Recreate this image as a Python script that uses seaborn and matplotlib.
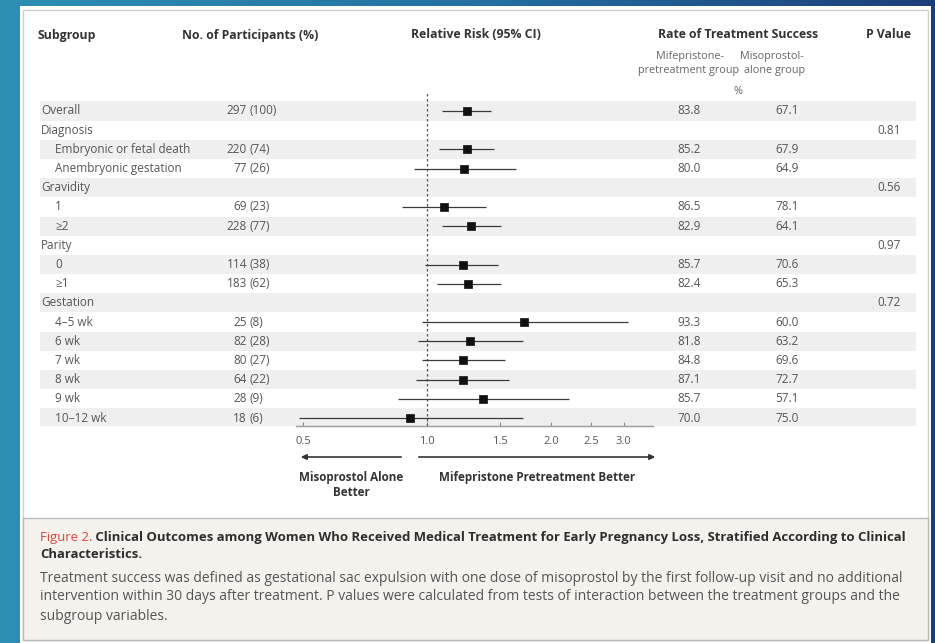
import numpy as np
import pandas as pd
import matplotlib
matplotlib.use("Agg")
import matplotlib.pyplot as plt
import seaborn as sns
from matplotlib.patches import Rectangle
from matplotlib.colors import LinearSegmentedColormap
from matplotlib.transforms import blended_transform_factory
from matplotlib.ticker import NullLocator

# ---- data ----
subgroups = ["Overall", "Diagnosis", "Embryonic or fetal death", "Anembryonic gestation",
             "Gravidity", "1", "\u22652", "Parity", "0", "\u22651", "Gestation",
             "4\u20135 wk", "6 wk", "7 wk", "8 wk", "9 wk", "10\u201312 wk"]
indent = [0, 0, 1, 1, 0, 1, 1, 0, 1, 1, 0, 1, 1, 1, 1, 1, 1]
n_part = ["297", "", "220", "77", "", "69", "228", "", "114", "183", "",
          "25", "82", "80", "64", "28", "18"]
pct_part = ["(100)", "", "(74)", "(26)", "", "(23)", "(77)", "", "(38)", "(62)", "",
            "(8)", "(28)", "(27)", "(22)", "(9)", "(6)"]
rr = [1.25, np.nan, 1.25, 1.23, np.nan, 1.10, 1.28, np.nan, 1.22, 1.26, np.nan,
      1.72, 1.27, 1.22, 1.22, 1.37, 0.91]
rr_lo = [1.09, np.nan, 1.07, 0.93, np.nan, 0.87, 1.09, np.nan, 0.99, 1.06, np.nan,
         0.97, 0.95, 0.97, 0.94, 0.85, 0.49]
rr_hi = [1.43, np.nan, 1.45, 1.64, np.nan, 1.39, 1.51, np.nan, 1.49, 1.51, np.nan,
         3.08, 1.71, 1.55, 1.58, 2.21, 1.71]
rate_mife = ["83.8", "", "85.2", "80.0", "", "86.5", "82.9", "", "85.7", "82.4", "",
             "93.3", "81.8", "84.8", "87.1", "85.7", "70.0"]
rate_miso = ["67.1", "", "67.9", "64.9", "", "78.1", "64.1", "", "70.6", "65.3", "",
             "60.0", "63.2", "69.6", "72.7", "57.1", "75.0"]
p_values = ["", "0.81", "", "", "0.56", "", "", "0.97", "", "", "0.72",
            "", "", "", "", "", ""]
x_ticks = [0.5, 1.0, 1.5, 2.0, 2.5, 3.0]
x_tick_labels = ["0.5", "1.0", "1.5", "2.0", "2.5", "3.0"]

df = pd.DataFrame({"row": np.arange(len(subgroups)), "rr": rr, "lo": rr_lo, "hi": rr_hi})
df_pts = df.dropna()

sns.set_theme(style="white")
plt.rcParams["font.family"] = ["Open Sans", "DejaVu Sans"]

W, H = 935, 643
fig = plt.figure(figsize=(W / 100, H / 100), dpi=100)

def fx(p):
    return p / W

def fy(p):
    return 1 - p / H

# slide background gradient
bg = fig.add_axes([0, 0, 1, 1], zorder=-2)
cmap = LinearSegmentedColormap.from_list("slide", ["#2c8fb3", "#2471a3", "#1c3f7c"])
bg.imshow(np.linspace(0, 1, 256)[None, :], extent=[0, 1, 0, 1], aspect="auto", cmap=cmap)
bg.set_xlim(0, 1)
bg.set_ylim(0, 1)
bg.axis("off")

# white panel and caption box
fig.add_artist(Rectangle((fx(20), 0), fx(931) - fx(20), fy(6), transform=fig.transFigure,
                         fc="white", ec="none", zorder=-1))
fig.add_artist(Rectangle((fx(23), fy(640)), fx(928) - fx(23), fy(10) - fy(640),
                         transform=fig.transFigure, fc="none", ec="#cfcfcf", lw=1, zorder=-1))
fig.add_artist(Rectangle((fx(23), fy(640)), fx(928) - fx(23), fy(518) - fy(640),
                         transform=fig.transFigure, fc="#f5f1ed", ec="#b9b9b9", lw=1, zorder=-1))

# overlay for arrows / chained caption text
top = fig.add_axes([0, 0, 1, 1], zorder=5)
top.set_xlim(0, 1)
top.set_ylim(0, 1)
top.axis("off")

# row geometry
row_top, row_step = 111, 19.19
y_lo_px, y_hi_px = 92.8, 426
ylim = ((y_hi_px - row_top) / row_step, (y_lo_px - row_top) / row_step)

# table axes (stripes + text)
ax_tab = fig.add_axes([fx(40), fy(y_hi_px), fx(916) - fx(40), (y_hi_px - y_lo_px) / H], zorder=1)
ax_tab.set_xlim(0, 1)
ax_tab.set_ylim(*ylim)
ax_tab.patch.set_alpha(0)
ax_tab.axis("off")
for i in range(0, len(subgroups), 2):
    ax_tab.axhspan(i - 0.5, i + 0.5, color="#efefef", lw=0)

tr = blended_transform_factory(fig.transFigure, ax_tab.transData)
txt = dict(fontsize=8.5, color="#555555", va="center", transform=tr)
for i, name in enumerate(subgroups):
    ax_tab.text(fx(55 if indent[i] else 41), i, name, ha="left", **txt)
    if n_part[i]:
        ax_tab.text(fx(247), i, n_part[i], ha="right", **txt)
        ax_tab.text(fx(250), i, pct_part[i], ha="left", **txt)
    if rate_mife[i]:
        ax_tab.text(fx(677), i, rate_mife[i], ha="left", **txt)
        ax_tab.text(fx(775), i, rate_miso[i], ha="left", **txt)
    if p_values[i]:
        ax_tab.text(fx(877), i, p_values[i], ha="left", **txt)

# forest plot axes
x0 = np.exp((296 - 427) / 179)
x1 = np.exp((653 - 427) / 179)
ax = fig.add_axes([fx(296), fy(y_hi_px), fx(653) - fx(296), (y_hi_px - y_lo_px) / H], zorder=2)
ax.patch.set_alpha(0)
ax.set_xscale("log")
ax.hlines(df_pts["row"], df_pts["lo"], df_pts["hi"], color="#3a3a3a", lw=0.9, zorder=2)
sns.scatterplot(data=df_pts, x="rr", y="row", marker="s", color="#111111", s=40,
                edgecolor="#111111", linewidth=0.5, legend=False, ax=ax, zorder=3)
ax.axvline(1.0, color="#555555", lw=0.9, ls=(0, (2, 2)), zorder=1)
ax.set_xlim(x0, x1)
ax.set_ylim(*ylim)
ax.set_xticks(x_ticks)
ax.set_xticklabels(x_tick_labels)
ax.xaxis.set_minor_locator(NullLocator())
ax.set_yticks([])
ax.set_xlabel("")
ax.set_ylabel("")
for s in ["top", "right", "left"]:
    ax.spines[s].set_visible(False)
ax.spines["bottom"].set_color("#9a9a9a")
ax.spines["bottom"].set_linewidth(1)
ax.tick_params(axis="x", direction="in", length=3, width=0.8, color="#8a8a8a",
               labelsize=8, labelcolor="#555555", pad=7, bottom=True)

# direction arrows and labels
arrow = dict(arrowstyle="-|>", color="#333333", lw=1.2, mutation_scale=8)
top.annotate("", xy=(fx(298), fy(457)), xytext=(fx(404), fy(457)),
             xycoords="figure fraction", textcoords="figure fraction", arrowprops=arrow)
top.annotate("", xy=(fx(658), fy(457)), xytext=(fx(416), fy(457)),
             xycoords="figure fraction", textcoords="figure fraction", arrowprops=arrow)
lab = dict(fontsize=8.4, fontweight="bold", color="#333333", ha="center", va="center")
fig.text(fx(351), fy(477), "Misoprostol Alone", **lab)
fig.text(fx(351), fy(492), "Better", **lab)
fig.text(fx(537), fy(477), "Mifepristone Pretreatment Better", **lab)

# column headers
hdr = dict(fontsize=8.8, fontweight="bold", color="#333333", va="center")
fig.text(fx(38), fy(35), "Subgroup", ha="left", **hdr)
fig.text(fx(182), fy(35), "No. of Participants (%)", ha="left", **hdr)
fig.text(fx(411), fy(35), "Relative Risk (95% CI)", ha="left", **hdr)
fig.text(fx(738), fy(35), "Rate of Treatment Success", ha="center", **hdr)
fig.text(fx(888), fy(35), "P Value", ha="center", **hdr)
sub = dict(fontsize=7.8, color="#666666", va="center", ha="center")
fig.text(fx(690), fy(56), "Mifepristone-", **sub)
fig.text(fx(689), fy(71), "pretreatment group", **sub)
fig.text(fx(772), fy(56), "Misoprostol-", **sub)
fig.text(fx(775), fy(71), "alone group", **sub)
fig.text(fx(738), fy(92), "%", **sub)

# caption
cap = 9.45
t1 = fig.text(fx(40), fy(537), "Figure 2.", fontsize=cap, color="#d9453f", va="center", zorder=6)
top.annotate(" Clinical Outcomes among Women Who Received Medical Treatment for Early "
             "Pregnancy Loss, Stratified According to Clinical",
             xy=(1, 0.5), xycoords=t1, va="center", ha="left",
             fontsize=cap, fontweight="bold", color="#2e2e2e", annotation_clip=False)
fig.text(fx(40), fy(555), "Characteristics.", fontsize=cap, fontweight="bold",
         color="#2e2e2e", va="center")
body = dict(fontsize=10.0, color="#555555", va="center", ha="left")
fig.text(fx(40), fy(578), "Treatment success was defined as gestational sac expulsion with one dose "
         "of misoprostol by the first follow-up visit and no additional", **body)
fig.text(fx(40), fy(597), "intervention within 30 days after treatment. P values were calculated "
         "from tests of interaction between the treatment groups and the", **body)
fig.text(fx(40), fy(616), "subgroup variables.", **body)

fig.savefig("out.png", dpi=100)
